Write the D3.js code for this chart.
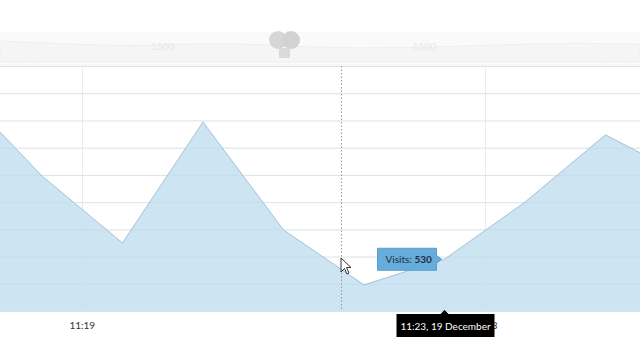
<!DOCTYPE html>
<html>
<head>
<meta charset="utf-8">
<script src="https://cdn.jsdelivr.net/npm/d3@7"></script>
<style>
  html, body { margin: 0; padding: 0; background: #fff; }
  svg { display: block; font-family: Lato, "Open Sans", "DejaVu Sans", sans-serif; }
</style>
</head>
<body>
<svg id="chart" width="640" height="360"></svg>
<script>
// Visits per step (zoomed-in view, first and last points sit outside the frame)
const times = ["11:17", "11:18", "11:19", "11:20", "11:20", "11:21", "11:23", "11:23", "11:24", "11:25"];
const visits = [1146, 836, 590, 1034, 638, 436, 530, 740, 987, 834];

// x grid / category labels (in step units)
const xTickIndex = [1.5, 6.5];
const xTickLabels = ["11:19", "11:23"];

// value grid lines
const yTicks = d3.range(340, 1241, 100);

// scrollbar preview labels
const scrollLabels = ["1500", "1500"];
const scrollLabelIndex = [2.5, 5.75];

// hovered point
const hoverIndex = 6;
const hoverDate = "11:23, 19 December";

const width = 640, height = 360;
const plot = { top: 66, bottom: 311 };

const svg = d3.select("#chart");

const x = d3.scaleLinear()
  .domain([0, visits.length - 1])
  .range([-38.5, 686]);

const y = d3.scaleLinear()
  .domain([340, 1240])
  .range([plot.bottom, plot.top]);

// Scrollbar strip at top
const sb = svg.append("g");
sb.append("rect")
  .attr("x", 0).attr("y", 32).attr("width", width).attr("height", 32)
  .attr("fill", "#fafafa");
const sbY = d3.scaleLinear().domain([0, 1400]).range([62, 36]);
const sbX = d3.scaleLinear().domain([0, visits.length - 1]).range([0, width]);
sb.append("path")
  .datum(visits)
  .attr("d", d3.area()
    .x((d, i) => sbX(i))
    .y0(62)
    .y1(d => sbY(d * 0.55 + 500))
    .curve(d3.curveBasis))
  .attr("fill", "#f5f5f5")
  .attr("stroke", "#efefef");
sb.selectAll(".sb-label")
  .data(scrollLabels)
  .join("text")
    .attr("x", (d, i) => x(scrollLabelIndex[i]))
    .attr("y", 50)
    .attr("text-anchor", "middle")
    .attr("font-size", 10)
    .attr("fill", "#e8e8e8")
    .text(d => d);
// grip
sb.append("circle").attr("cx", 278).attr("cy", 40).attr("r", 9).attr("fill", "#d6d6d6");
sb.append("circle").attr("cx", 291).attr("cy", 40).attr("r", 9).attr("fill", "#d2d2d2");
sb.append("rect").attr("x", 279).attr("y", 48).attr("width", 11).attr("height", 10).attr("fill", "#dadada");
sb.append("line")
  .attr("x1", 0).attr("x2", width).attr("y1", 65).attr("y2", 65)
  .attr("stroke", "#ececec");

// Plot
const g = svg.append("g");

// horizontal grid
g.selectAll(".hgrid")
  .data(yTicks)
  .join("line")
    .attr("x1", 0).attr("x2", width)
    .attr("y1", d => y(d) + 0.5).attr("y2", d => y(d) + 0.5)
    .attr("stroke", "#ebebeb");

// vertical grid
g.selectAll(".vgrid")
  .data(xTickIndex)
  .join("line")
    .attr("x1", d => Math.round(x(d)) + 0.5).attr("x2", d => Math.round(x(d)) + 0.5)
    .attr("y1", plot.top).attr("y2", plot.bottom)
    .attr("stroke", "#ebebeb");

// area
const area = d3.area()
  .x((d, i) => x(i))
  .y0(plot.bottom)
  .y1(d => y(d));
const line = d3.line()
  .x((d, i) => x(i))
  .y(d => y(d));

g.append("path")
  .datum(visits)
  .attr("d", area)
  .attr("fill", "#c8e1f1")
  .attr("fill-opacity", 0.9);

// grid shows through lightly on the fill
g.selectAll(".hgrid2")
  .data(yTicks)
  .join("line")
    .attr("x1", 0).attr("x2", width)
    .attr("y1", d => y(d) + 0.5).attr("y2", d => y(d) + 0.5)
    .attr("stroke", "#b8d3e6")
    .attr("stroke-opacity", 0.3);

g.append("path")
  .datum(visits)
  .attr("d", line)
  .attr("fill", "none")
  .attr("stroke", "#a3c2d8")
  .attr("stroke-width", 1);

// x labels
g.selectAll(".xlabel")
  .data(xTickLabels)
  .join("text")
    .attr("x", (d, i) => x(xTickIndex[i]))
    .attr("y", 329)
    .attr("text-anchor", "middle")
    .attr("font-size", 10)
    .attr("fill", "#333")
    .text(d => d);

// cursor line
svg.append("line")
  .attr("x1", 341.5).attr("x2", 341.5)
  .attr("y1", plot.top).attr("y2", plot.bottom)
  .attr("stroke", "#999")
  .attr("stroke-dasharray", "1.5,2");

// mouse pointer
svg.append("path")
  .attr("d", "M341,258 L341,272 L344.5,268.5 L347,274 L349,273 L346.5,267.5 L351,267.5 Z")
  .attr("fill", "#fff")
  .attr("stroke", "#333")
  .attr("stroke-width", 1);

// value balloon
const hx = x(hoverIndex), hy = y(visits[hoverIndex]);
const bal = svg.append("g");
bal.append("path")
  .attr("d", `M${hx - 67},${hy - 11} H${hx - 8} V${hy - 4} L${hx - 3},${hy} L${hx - 8},${hy + 4} V${hy + 11} H${hx - 67} Z`)
  .attr("fill", "#67addb")
  .attr("stroke", "#5a9fcc");
const balText = bal.append("text")
  .attr("x", hx - 59)
  .attr("y", hy + 4)
  .attr("font-size", 10)
  .attr("fill", "#1c2f3f");
balText.append("tspan").text("Visits: ");
balText.append("tspan").attr("font-weight", "bold").text(visits[hoverIndex]);

// category balloon
const cat = svg.append("g");
cat.append("path")
  .attr("d", `M${hx - 48},314 H${hx - 4} L${hx},310 L${hx + 4},314 H${hx + 50} V337 H${hx - 48} Z`)
  .attr("fill", "#000");
cat.append("text")
  .attr("x", hx + 1)
  .attr("y", 329.5)
  .attr("text-anchor", "middle")
  .attr("font-size", 10)
  .attr("fill", "#fff")
  .text(hoverDate);
</script>
</body>
</html>
